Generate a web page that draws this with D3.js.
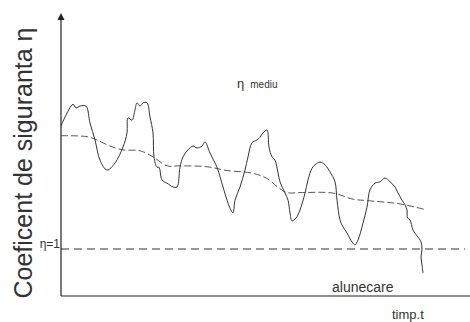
<!DOCTYPE html>
<html>
<head>
<meta charset="utf-8">
<script src="https://cdn.jsdelivr.net/npm/d3@7"></script>
<style>
    body { margin: 0; background: #fff; }
    text { font-family: "Liberation Sans", Arial, sans-serif; fill: #333; }
</style>
</head>
<body>
<div id="chart"></div>
<script>
// time (arbitrary units) and safety coefficient eta
const timeT = [0, 12, 15, 19, 25, 29, 34, 39, 46, 54, 62, 66, 67, 71, 74, 76, 79, 82, 86, 89,
    92, 93, 96, 98, 101, 106, 112, 116, 119, 122, 127, 132, 136, 141, 144, 149, 154, 157, 162, 166,
    169, 172, 174, 179, 184, 187, 191, 196, 199, 202, 206, 208, 211, 214, 217, 219, 224, 227, 229, 231,
    235, 239, 244, 247, 251, 254, 259, 264, 269, 274, 276, 279, 282, 286, 291, 294, 297, 302, 306, 309,
    314, 319, 324, 329, 334, 337, 341, 344, 346, 346.5, 349, 352, 356, 360, 361, 360, 361, 362];
const etaValues = [3.62, 4.08, 4.00, 4.04, 4.04, 3.68, 3.32, 2.89, 2.68, 2.83, 3.17, 3.47, 3.79, 3.74, 3.96, 4.11, 4.04, 4.11, 4.11, 3.81,
    3.47, 2.96, 2.74, 2.74, 2.47, 2.40, 2.32, 2.32, 2.74, 2.96, 3.11, 3.19, 3.15, 3.19, 3.28, 3.04, 2.83, 2.68, 2.32, 2.04,
    1.87, 1.77, 2.04, 2.32, 2.68, 2.96, 3.26, 3.32, 3.38, 3.47, 3.53, 3.17, 2.96, 2.89, 2.62, 2.43, 2.19, 2.04, 1.77, 1.60,
    1.66, 1.83, 2.19, 2.47, 2.72, 2.79, 2.85, 2.79, 2.64, 2.43, 2.04, 1.62, 1.47, 1.34, 1.15, 1.09, 1.19, 1.55, 1.89, 2.26,
    2.40, 2.43, 2.51, 2.43, 2.32, 2.19, 2.04, 1.94, 1.83, 1.66, 1.62, 1.40, 1.28, 1.15, 1.00, 0.83, 0.66, 0.49];

// mean eta (η mediu)
const meanT = [0, 26, 36, 49, 62, 79, 92, 106, 119, 146, 166, 192, 206, 216, 226, 239, 272, 292, 306, 339, 364];
const meanEta = [3.41, 3.39, 3.32, 3.19, 3.11, 3.09, 2.96, 2.77, 2.77, 2.75, 2.67, 2.61, 2.50, 2.33, 2.20, 2.20, 2.19, 2.06, 2.03, 1.96, 1.84];

const limitEta = 1;
const tMax = 409;
const etaMax = 6;

const width = 470, height = 322;
const margin = { top: 14, right: 0, bottom: 26, left: 61 };

const svg = d3.select('#chart').append('svg')
    .attr('width', width)
    .attr('height', height);

const x = d3.scaleLinear().domain([0, tMax]).range([margin.left, width - margin.right]);
const y = d3.scaleLinear().domain([0, etaMax]).range([height - margin.bottom, margin.top]);

const series = timeT.map((t, i) => ({ t, v: etaValues[i] }));
const meanSeries = meanT.map((t, i) => ({ t, v: meanEta[i] }));

// eta = 1 limit
svg.append('line')
    .attr('x1', x(0)).attr('x2', x(tMax) - 5)
    .attr('y1', y(limitEta)).attr('y2', y(limitEta))
    .attr('stroke', '#333').attr('stroke-width', 1)
    .attr('stroke-dasharray', '8,5');

const line = d3.line()
    .x(d => x(d.t))
    .y(d => y(d.v))
    .curve(d3.curveCatmullRom.alpha(0.5));

svg.append('path')
    .datum(meanSeries)
    .attr('d', line)
    .attr('fill', 'none')
    .attr('stroke', '#444').attr('stroke-width', 0.9)
    .attr('stroke-dasharray', '7,3');

svg.append('path')
    .datum(series)
    .attr('d', line)
    .attr('fill', 'none')
    .attr('stroke', '#333').attr('stroke-width', 1);

// axes
svg.append('line')
    .attr('x1', x(0)).attr('x2', x(0))
    .attr('y1', y(0)).attr('y2', y(etaMax) + 4)
    .attr('stroke', '#222').attr('stroke-width', 1.2);
svg.append('line')
    .attr('x1', x(0)).attr('x2', x(tMax))
    .attr('y1', y(0)).attr('y2', y(0))
    .attr('stroke', '#222').attr('stroke-width', 1.2);
svg.append('path')
    .attr('d', `M${x(0)},${y(etaMax) - 1} l-3.5,7 l7,0 z`)
    .attr('fill', '#222');

// labels
svg.append('text')
    .attr('transform', `translate(32,${(y(0) + y(etaMax)) / 2 + 8}) rotate(-90)`)
    .attr('text-anchor', 'middle')
    .style('font-size', '25px')
    .text('Coeficent de siguranta η');

svg.append('text')
    .attr('x', x(0) - 1).attr('y', y(limitEta) - 1)
    .attr('text-anchor', 'end')
    .style('font-size', '12px')
    .text('η=1');

const meanLabel = svg.append('text').attr('x', 237).attr('y', 88);
meanLabel.append('tspan').style('font-size', '13px').text('η');
meanLabel.append('tspan').attr('dx', 6).style('font-size', '10px').text('mediu');

svg.append('text')
    .attr('x', 332).attr('y', 292)
    .style('font-size', '14px')
    .text('alunecare');

svg.append('text')
    .attr('x', 392).attr('y', 319)
    .style('font-size', '13px')
    .text('timp.t');
</script>
</body>
</html>
